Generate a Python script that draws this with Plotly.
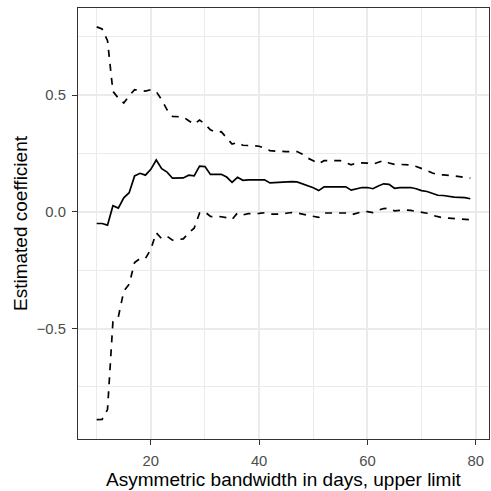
import plotly.graph_objects as go

bandwidth = list(range(10, 80))

estimate = [-0.05, -0.05, -0.057, 0.026, 0.016, 0.06, 0.082, 0.154, 0.165, 0.157,
            0.182, 0.222, 0.185, 0.17, 0.144, 0.144, 0.145, 0.157, 0.154, 0.196,
            0.194, 0.16, 0.16, 0.161, 0.149, 0.126, 0.148, 0.135, 0.137, 0.137,
            0.137, 0.137, 0.124, 0.126, 0.126, 0.129, 0.129, 0.128, 0.12, 0.109,
            0.103, 0.091, 0.107, 0.107, 0.107, 0.107, 0.107, 0.093, 0.1, 0.104,
            0.104, 0.099, 0.111, 0.12, 0.118, 0.101, 0.104, 0.104, 0.104, 0.099,
            0.091, 0.087, 0.08, 0.071, 0.07, 0.066, 0.063, 0.062, 0.061, 0.056]

upper = [0.792, 0.783, 0.733, 0.516, 0.487, 0.466, 0.497, 0.523, 0.52, 0.517,
         0.523, 0.515, 0.48, 0.437, 0.409, 0.406, 0.406, 0.39, 0.375, 0.393,
         0.376, 0.351, 0.341, 0.343, 0.315, 0.29, 0.297, 0.285, 0.284, 0.283,
         0.281, 0.272, 0.262, 0.26, 0.258, 0.258, 0.258, 0.258, 0.247, 0.23,
         0.219, 0.206, 0.219, 0.219, 0.219, 0.219, 0.21, 0.201, 0.21, 0.211,
         0.209, 0.204, 0.212, 0.22, 0.209, 0.203, 0.203, 0.203, 0.201, 0.194,
         0.187, 0.177, 0.166, 0.16, 0.158, 0.157, 0.154, 0.151, 0.149, 0.144]

lower = [-0.89, -0.889, -0.847, -0.47, -0.45, -0.34, -0.31, -0.217, -0.2, -0.2,
         -0.16, -0.09, -0.115, -0.105, -0.121, -0.118, -0.116, -0.09, -0.07, -0.005,
         0.0, -0.02, -0.02, -0.021, -0.025, -0.033, -0.005, -0.013, -0.008, -0.009,
         -0.007, -0.004, -0.01, -0.01, -0.01, -0.006, -0.003, -0.005, -0.01, -0.016,
         -0.02, -0.024, -0.005, -0.005, -0.006, -0.006, -0.005, -0.013, -0.006, 0.0,
         0.001, -0.003, 0.007, 0.014, 0.015, 0.004, 0.006, 0.008, 0.006, 0.003,
         0.0, -0.006, -0.015, -0.022, -0.026, -0.027, -0.028, -0.029, -0.031, -0.034]

x_ticks = [20, 40, 60, 80]
x_minor = [10, 30, 50, 70]
y_ticks = [-0.5, 0.0, 0.5]
y_minor = [-0.75, -0.25, 0.25, 0.75]
y_tick_labels = ["−0.5", "0.0", "0.5"]

x_title = "Asymmetric bandwidth in days, upper limit"
y_title = "Estimated coefficient"

fig = go.Figure()
for series, dash in [(upper, "7px,7px"), (estimate, "solid"), (lower, "7px,7px")]:
    fig.add_trace(go.Scatter(x=bandwidth, y=series, mode="lines",
                             line=dict(color="black", width=1.7, dash=dash),
                             showlegend=False, hoverinfo="skip"))

font_family = "Liberation Sans, Arial, sans-serif"
axis_common = dict(
    showgrid=True, gridcolor="#EBEBEB", gridwidth=1.5,
    zeroline=False, showline=True, mirror=True, linecolor="#333333", linewidth=1.2,
    ticks="outside", ticklen=5, tickcolor="#333333", tickwidth=1.2,
    tickfont=dict(family=font_family, size=14.8, color="#4D4D4D"),
    ticklabelstandoff=3,
)

fig.update_xaxes(**axis_common, range=[6.55, 82.45], tickvals=x_ticks,
                 minor=dict(tickvals=x_minor, showgrid=True,
                            gridcolor="#EBEBEB", gridwidth=0.8, ticks=""),
                 title=dict(text=x_title, font=dict(family=font_family, size=19, color="black"),
                            standoff=1))
fig.update_yaxes(**axis_common, range=[-0.973, 0.873], tickvals=y_ticks, ticktext=y_tick_labels,
                 minor=dict(tickvals=y_minor, showgrid=True,
                            gridcolor="#EBEBEB", gridwidth=0.8, ticks=""),
                 title=dict(text=y_title, font=dict(family=font_family, size=19, color="black"),
                            standoff=4))

fig.update_layout(
    width=491, height=491,
    margin=dict(l=78, r=2, t=8, b=52),
    paper_bgcolor="white", plot_bgcolor="white",
)

fig.write_html("out.html")
